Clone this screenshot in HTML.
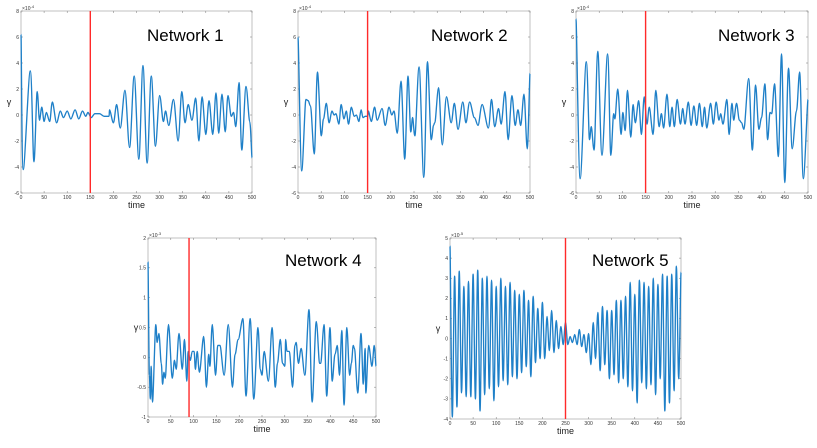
<!DOCTYPE html>
<html><head><meta charset="utf-8">
<style>
html,body{margin:0;padding:0;background:#fff;}
svg{display:block;font-family:"Liberation Sans",sans-serif;}
</style></head>
<body>
<svg id="c" width="817" height="448" viewBox="0 0 817 448"></svg>
<script>
// ---- data ----
const p1t=[0,5,20,28,35,40,45,50,55,62,68,77,85,92,100,108,117,125,133,140,145,152,160,170,180,190,192,200,207,215,225,235,245,255,264,273,282,291,300,308,313,320,330,340,348,355,362,370,378,385,392,400,407,415,422,428,435,442,448,455,460,465,472,478,487,495,500];
const p1v=[6.2,-4.2,3.4,-3.6,1.8,-0.4,0.6,-0.5,0.2,-0.5,1.0,-0.6,0.3,-0.2,0.3,-0.3,0.4,-0.3,0.3,-0.1,0.2,-0.2,0.1,0.1,-0.1,-0.1,0.4,-0.6,0.8,-1.0,1.9,-2.5,3.0,-3.4,3.8,-3.7,3.0,-2.4,1.5,-0.5,0.3,-0.8,1.2,-2.0,1.8,-0.6,0.8,-0.4,1.3,-2.0,1.4,-1.5,1.1,-1.5,1.7,-1.4,1.6,-1.3,1.5,-0.1,0.2,-0.9,2.5,-2.7,2.2,-0.5,-3.3];
const p2t=[0,8,17,22,27,35,42,50,55,61,67,73,78,82,88,93,99,104,109,115,121,126,131,136,140,145,150,152,158,165,171,181,188,196,202,207,214,222,230,237,243,247,252,261,271,279,287,292,295,303,311,320,330,337,345,355,362,370,380,388,397,410,417,424,432,438,446,453,461,468,474,480,487,494,500];
const p2v=[6.0,-4.3,1.2,1.1,0.7,-3.0,3.3,-1.6,-0.3,0.9,-0.6,0.3,0.0,0.1,-0.7,0.8,-0.3,0.3,-0.7,0.6,-0.1,0.0,-0.5,0.4,-0.2,-0.1,-0.1,0.3,-0.5,0.6,-0.4,0.5,-0.8,0.6,0.0,0.3,-1.4,2.6,-3.4,3.0,-1.3,-0.2,-1.6,3.7,-4.8,4.1,-1.9,-0.8,-0.6,2.1,-2.3,1.4,-0.6,0.9,-1.1,1.0,-0.6,1.0,-0.2,-0.8,0.8,-1.0,1.2,-0.9,0.5,-0.7,1.8,-1.9,1.5,-0.8,0.4,-0.8,1.6,-2.6,3.2];
const p3t=[0,9,22,29,33,39,47,56,68,75,81,84,90,97,101,106,111,118,123,128,135,141,147,153,158,166,172,179,184,189,196,202,207,212,218,225,230,235,242,248,254,260,266,272,277,282,290,296,302,308,312,317,325,330,336,340,346,352,357,362,372,380,387,394,400,407,413,418,422,428,436,443,450,458,466,475,482,490,500];
const p3v=[7.4,-4.9,4.1,-1.9,-0.9,-2.7,4.9,-3.1,4.7,-3.1,0.1,-0.3,2.0,-1.5,0.2,-1.2,1.9,-1.7,0.8,-0.6,1.1,-1.5,1.4,-0.7,0.6,-1.5,1.9,-0.9,0.1,-1.0,1.6,-0.9,0.6,-0.9,1.2,-0.7,0.5,-0.7,1.0,-0.8,0.7,-0.8,0.9,-0.9,0.6,-1.0,0.9,-0.7,1.0,-0.4,0.1,-0.7,1.2,-1.5,0.9,-0.4,0.9,-0.4,-0.6,-1.1,2.8,-2.7,2.3,-1.1,-0.2,2.4,-1.9,0.2,0.1,2.4,-3.2,4.7,-5.2,3.6,-2.6,0.3,3.3,-4.9,1.2];
const p4t=[0,3,5,7,10,17,20,24,29,32,35,38,45,53,58,62,68,75,80,85,88,91,93,97,101,104,108,113,122,128,133,136,141,148,153,158,167,176,185,191,198,208,215,224,232,241,246,250,255,264,272,279,284,290,295,300,302,305,310,317,322,325,330,336,344,353,360,369,376,379,386,392,399,404,410,415,420,425,430,436,442,446,450,453,460,467,472,476,478,484,491,496,500];
const p4v=[1.6,-0.3,-0.7,-0.15,-0.75,0.55,0.25,0.4,-0.1,-0.45,-0.25,-0.35,0.55,-0.35,-0.05,-0.2,0.4,-0.2,0.3,-0.4,0.1,0.0,-0.05,0.1,0.1,-0.2,0.1,-0.25,0.35,-0.5,0.05,-0.15,0.55,-0.3,0.2,0.2,-0.3,0.55,-0.5,0.05,0.3,0.65,-0.65,0.65,-0.7,0.5,-0.2,-0.3,0.1,-0.4,0.5,-0.5,-0.1,0.3,-0.1,-0.15,0.3,0.1,0.1,-0.5,0.2,0.25,-0.1,0.15,-0.3,0.8,-0.75,0.6,-0.1,-0.1,0.55,-0.65,0.5,-0.4,0.05,0.2,-0.3,0.45,-0.8,0.5,-0.3,-0.1,0.2,0.15,-0.6,0.4,-0.45,0.15,-0.6,0.2,-0.15,0.2,-0.15];
const p5start=4.6;
const p5upper=[3.1,3.35,2.6,2.85,3.2,3.4,3.0,3.1,2.9,2.6,3.0,2.6,2.8,2.4,2.2,2.4,1.9,2.1,1.5,1.8,1.1,1.4,0.9,0.6,0.8,0.1,0.2,0.45,0.2,0.25,0.8,1.3,1.6,1.4,1.4,1.9,1.9,2.1,2.8,2.2,2.9,2.8,2.6,3.0,2.7,3.2,3.1,3.2,3.6,3.3];
const p5lower=[-3.9,-3.4,-2.7,-2.9,-2.9,-3.0,-3.6,-2.8,-2.5,-3.1,-2.4,-2.1,-2.3,-1.9,-2.0,-1.7,-1.4,-1.9,-1.2,-1.0,-1.0,-0.6,-0.7,-0.5,-0.3,-0.3,-0.2,-0.3,-0.4,-0.7,-1.3,-1.0,-1.6,-1.3,-2.0,-1.8,-2.2,-2.0,-2.4,-2.6,-3.2,-2.2,-2.5,-2.3,-2.8,-2.0,-3.6,-3.2,-2.6,-2.0];
const p5period=10;
const xTicks=[0,50,100,150,200,250,300,350,400,450,500];
const yTicksA=[-6,-4,-2,0,2,4,6,8];
const yTicks4=[-1,-0.5,0,0.5,1,1.5,2];
const yTicks5=[-4,-3,-2,-1,0,1,2,3,4,5];

const p5t=[0],p5v=[p5start];
for(let i=0;i<p5upper.length;i++){p5t.push(i*p5period+p5period/2);p5v.push(p5lower[i]);p5t.push((i+1)*p5period);p5v.push(p5upper[i]);}

const svg=document.getElementById('c');
const NS='http://www.w3.org/2000/svg';
function mk(tag,attrs,parent){const e=document.createElementNS(NS,tag);for(const k in attrs)e.setAttribute(k,attrs[k]);(parent||svg).appendChild(e);return e;}

function panel(cfg){
  const g=mk('g',{});
  
  
  const X=t=>cfg.l+(t-0)/500*(cfg.r-cfg.l);
  const Y=v=>cfg.b-(v-cfg.ymin)/(cfg.ymax-cfg.ymin)*(cfg.b-cfg.t);
  const frame=mk('rect',{x:cfg.l,y:cfg.t,width:cfg.r-cfg.l,height:cfg.b-cfg.t,fill:'#fff',stroke:'#9a9a9a','stroke-width':0.6},g);
  
  
  xTicks.forEach(v=>{
    const x=X(v);
    mk('line',{x1:x,x2:x,y1:cfg.b,y2:cfg.b-2,stroke:'#777','stroke-width':0.5},g);
    mk('line',{x1:x,x2:x,y1:cfg.t,y2:cfg.t+2,stroke:'#777','stroke-width':0.5},g);
    const tx=mk('text',{x:x,y:cfg.b+6,'font-size':5,'text-anchor':'middle',fill:'#333'},g);
    tx.textContent=v;
    
    
  });
  cfg.yt.forEach(v=>{
    const y=Y(v);
    mk('line',{x1:cfg.l,x2:cfg.l+2,y1:y,y2:y,stroke:'#777','stroke-width':0.5},g);
    mk('line',{x1:cfg.r,x2:cfg.r-2,y1:y,y2:y,stroke:'#777','stroke-width':0.5},g);
    const tx=mk('text',{x:cfg.l-2,y:y+1.8,'font-size':5,'text-anchor':'end',fill:'#333'},g);
    tx.textContent=v;
    
    
  });
  const ex=mk('text',{x:cfg.l+1,y:cfg.t-1,'font-size':5,fill:'#333'},g);
  ex.innerHTML='×10<tspan dy="-2" font-size="4">'+cfg.exp+'</tspan>';
  
  
  const xl=mk('text',{x:(cfg.l+cfg.r)/2,y:cfg.b+15,'font-size':9,'text-anchor':'middle',fill:'#222'},g);
  xl.textContent='time';
  
  
  const yl=mk('text',{x:cfg.l-12,y:(cfg.t+cfg.b)/2+3,'font-size':9,'text-anchor':'middle',fill:'#222'},g);
  yl.textContent='γ';
  
  
  const pts=cfg.tv.map((t,i)=>[X(t),Y(cfg.vv[i])]);
  let d='M'+pts[0][0].toFixed(2)+','+pts[0][1].toFixed(2);
  for(let i=0;i<pts.length-1;i++){
    const p0=pts[i-1]||pts[i],p1=pts[i],p2=pts[i+1],p3=pts[i+2]||p2;
    const c1x=p1[0]+(p2[0]-p0[0])/6,c1y=p1[1];
    const c2x=p2[0]-(p3[0]-p1[0])/6,c2y=p2[1];
    d+=' C'+c1x.toFixed(2)+','+c1y.toFixed(2)+' '+c2x.toFixed(2)+','+c2y.toFixed(2)+' '+p2[0].toFixed(2)+','+p2[1].toFixed(2);
  }
  const line=mk('path',{d:d,fill:'none',stroke:'#1f80c8','stroke-width':1.35,'stroke-linejoin':'round'},g);
  
  
  const rx=X(cfg.red);
  const red=mk('line',{x1:rx,x2:rx,y1:cfg.t,y2:cfg.b,stroke:'#ff2a2a','stroke-width':1.4},g);
  
  
  const ti=mk('text',{x:cfg.tx,y:cfg.ty,'font-size':17,fill:'#000'},g);
  ti.textContent=cfg.title;
  
  
}
panel({name:'network-1-panel',l:21,r:252,t:11,b:193,ymin:-6,ymax:8,yt:yTicksA,exp:'-4',tv:p1t,vv:p1v,red:150,title:'Network 1',tx:147,ty:41});
panel({name:'network-2-panel',l:298,r:530,t:11,b:193,ymin:-6,ymax:8,yt:yTicksA,exp:'-4',tv:p2t,vv:p2v,red:150,title:'Network 2',tx:431,ty:41});
panel({name:'network-3-panel',l:576,r:808,t:11,b:193,ymin:-6,ymax:8,yt:yTicksA,exp:'-4',tv:p3t,vv:p3v,red:150,title:'Network 3',tx:718,ty:41});
panel({name:'network-4-panel',l:148,r:376,t:238,b:417,ymin:-1,ymax:2,yt:yTicks4,exp:'-3',tv:p4t,vv:p4v,red:90,title:'Network 4',tx:285,ty:266});
panel({name:'network-5-panel',l:450,r:681,t:238,b:419,ymin:-4,ymax:5,yt:yTicks5,exp:'-5',tv:p5t,vv:p5v,red:250,title:'Network 5',tx:592,ty:266});
</script>
</body></html>
